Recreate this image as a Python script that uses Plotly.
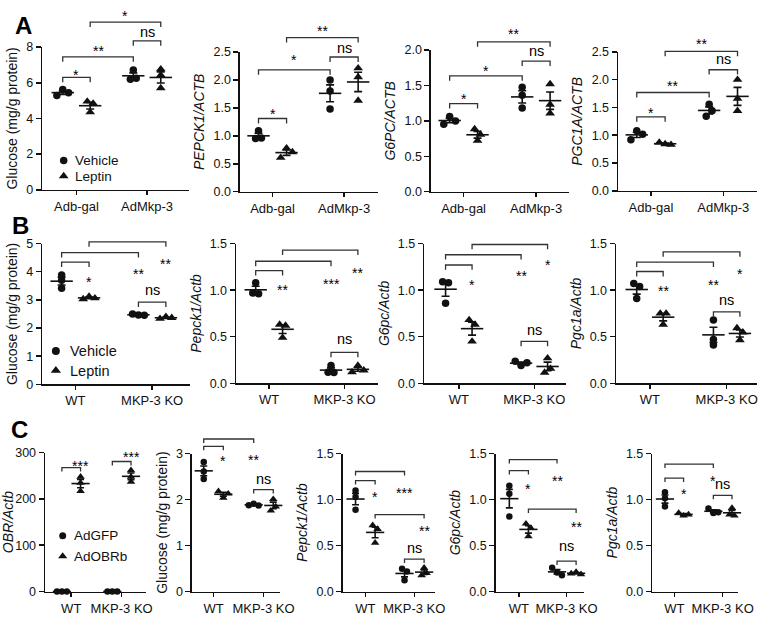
import numpy as np
import plotly.graph_objects as go

W, H = 777, 621
FONT = "Liberation Sans, Arial, Helvetica, sans-serif"
INK = "#111111"

# ---------------- data ----------------
A_categories = ["Adb-gal", "AdMkp-3"]
BC_categories = ["WT", "MKP-3 KO"]
AB_conditions = ["Vehicle", "Leptin"]
C_conditions = ["AdGFP", "AdOBRb"]

# each list: [cat1-cond1, cat1-cond2, cat2-cond1, cat2-cond2], replicates left->right
A1_glucose = [[5.28, 5.62, 5.44], [4.95, 4.35, 4.84], [6.20, 6.72, 6.25], [6.76, 5.70, 6.43]]
A2_pepck1 = [[0.95, 1.09, 0.96], [0.61, 0.78, 0.71], [1.80, 2.00, 1.48], [2.21, 2.05, 1.63]]
A3_g6pc = [[0.954, 1.06, 1.00], [0.72, 0.885, 0.806], [1.475, 1.36, 1.18], [1.52, 1.23, 1.106]]
A4_pgc1a = [[0.92, 1.08, 1.02], [0.87, 0.84, 0.83], [1.56, 1.34, 1.44], [1.66, 1.44, 2.00]]

B1_glucose = [[3.41, 3.88, 3.70], [3.03, 3.12, 3.06], [2.50, 2.46, 2.45], [2.33, 2.40, 2.36]]
B2_pepck1 = [[0.97, 1.08, 0.96], [0.63, 0.49, 0.62], [0.19, 0.12, 0.115], [0.12, 0.19, 0.14]]
B3_g6pc = [[1.09, 0.86, 1.08], [0.68, 0.45, 0.63], [0.237, 0.19, 0.22], [0.115, 0.27, 0.157]]
B4_pgc1a = [[1.07, 0.91, 1.04], [0.75, 0.63, 0.75], [0.68, 0.47, 0.41], [0.464, 0.593, 0.548]]

C1_obr = [[0, 0, 0], [217, 248, 235], [0, 0, 0], [237, 262, 248]]
C2_glucose = [[2.45, 2.82, 2.61], [2.18, 2.04, 2.13], [1.88, 1.91, 1.87], [1.76, 2.01, 1.85]]
C3_pepck1 = [[1.10, 0.89, 1.03], [0.72, 0.53, 0.68], [0.124, 0.247, 0.219], [0.176, 0.258, 0.20]]
C4_g6pc = [[1.152, 1.064, 0.816], [0.60, 0.738, 0.69], [0.259, 0.206, 0.177], [0.195, 0.213, 0.188]]
C5_pgc1a = [[0.926, 1.08, 1.014], [0.855, 0.826, 0.837], [0.904, 0.855, 0.862], [0.837, 0.908, 0.826]]

# y-axis titles
A1_ytitle = "Glucose (mg/g protein)"
A2_ytitle = "<i>PEPCK1/ACTB</i>"
A3_ytitle = "<i>G6PC/ACTB</i>"
A4_ytitle = "<i>PGC1A/ACTB</i>"
B1_ytitle = "Glucose (mg/g protein)"
B2_ytitle = "<i>Pepck1/Actb</i>"
B3_ytitle = "<i>G6pc/Actb</i>"
B4_ytitle = "<i>Pgc1a/Actb</i>"
C1_ytitle = "<i>OBR/Actb</i>"
C2_ytitle = "Glucose (mg/g protein)"
C3_ytitle = "<i>Pepck1/Actb</i>"
C4_ytitle = "<i>G6pc/Actb</i>"
C5_ytitle = "<i>Pgc1a/Actb</i>"

# significance: (group i, group j, bracket height, label, label height)
A1_sig = [(0, 1, 6.3, "*", 6.67), (0, 2, 7.45, "**", 8.0), (2, 3, 8.35, "ns", 8.8), (1, 3, 9.4, "*", 9.95)]
A2_sig = [(0, 1, 1.31, "*", 1.47), (0, 2, 2.18, "*", 2.42), (2, 3, 2.41, "ns", 2.56), (1, 3, 2.756, "**", 2.95)]
A3_sig = [(0, 1, 1.244, "*", 1.37), (0, 2, 1.636, "*", 1.76), (2, 3, 1.843, "ns", 1.97), (1, 3, 2.115, "**", 2.28)]
A4_sig = [(0, 1, 1.33, "*", 1.47), (0, 2, 1.77, "**", 1.96), (2, 3, 2.18, "ns", 2.35), (1, 3, 2.51, "**", 2.72)]
B1_sig = [(0, 1, 4.34, "*", 3.76), (0, 2, 4.68, "**", 4.05), (1, 3, 5.06, "**", 4.41), (2, 3, 2.92, "ns", 3.3)]
B2_sig = [(0, 1, 1.21, "**", 1.04), (0, 2, 1.31, "***", 1.11), (1, 3, 1.43, "**", 1.23), (2, 3, 0.333, "ns", 0.47)]
B3_sig = [(0, 1, 1.27, "*", 1.10), (0, 2, 1.38, "**", 1.19), (1, 3, 1.49, "*", 1.31), (2, 3, 0.45, "ns", 0.56)]
B4_sig = [(0, 1, 1.20, "**", 1.03), (0, 2, 1.30, "**", 1.10), (1, 3, 1.41, "*", 1.22), (2, 3, 0.767, "ns", 0.88)]
C1_sig = [(0, 1, 268, "***", 281), (2, 3, 281, "***", 300)]
C2_sig = [(0, 1, 3.16, "*", 2.93), (0, 2, 3.32, "**", 2.96), (2, 3, 2.22, "ns", 2.43)]
C3_sig = [(0, 1, 1.207, "*", 1.077), (0, 2, 1.306, "***", 1.12), (1, 3, 0.837, "**", 0.70), (2, 3, 0.353, "ns", 0.46)]
C4_sig = [(0, 1, 1.316, "*", 1.156), (0, 2, 1.436, "**", 1.25), (1, 3, 0.897, "**", 0.748), (2, 3, 0.33, "ns", 0.48)]
C5_sig = [(0, 1, 1.234, "*", 1.10), (0, 2, 1.387, "*", 1.245), (2, 3, 1.046, "ns", 1.16)]

# ---------------- layout (pixel boxes, ranges, styles) ----------------
PANELS = [
    # name, values, ytitle, sig, categories, yrange, dtick, tickformat, px box, py box, x range, group gap, row
    ("A1", A1_glucose, A1_ytitle, A1_sig, A_categories, (0, 8), 2, "d", (42, 192), (41, 187), (-0.75, 4.6), 2.57, "A"),
    ("A2", A2_pepck1, A2_ytitle, A2_sig, A_categories, (0, 2.5), 0.5, ".1f", (244, 385), (46, 189), (-0.66, 4.26), 2.55, "A"),
    ("A3", A3_g6pc, A3_ytitle, A3_sig, A_categories, (0, 2.0), 0.5, ".1f", (439, 580), (44, 189), (-0.67, 4.28), 2.6, "A"),
    ("A4", A4_pgc1a, A4_ytitle, A4_sig, A_categories, (0, 2.5), 0.5, ".1f", (630, 772), (46, 188), (-0.66, 4.24), 2.55, "A"),
    ("B1", B1_glucose, B1_ytitle, B1_sig, BC_categories, (0, 5), 1, "d", (42, 193), (242, 386), (-0.71, 4.68), 2.8, "B"),
    ("B2", B2_pepck1, B2_ytitle, B2_sig, BC_categories, (0, 1.5), 0.5, ".1f", (240, 385), (242, 385), (-0.73, 4.55), 2.8, "B"),
    ("B3", B3_g6pc, B3_ytitle, B3_sig, BC_categories, (0, 1.5), 0.5, ".1f", (432, 577), (242, 385), (-0.81, 4.55), 2.85, "B"),
    ("B4", B4_pgc1a, B4_ytitle, B4_sig, BC_categories, (0, 1.5), 0.5, ".1f", (628, 772), (242, 385), (-0.78, 4.55), 2.9, "B"),
    ("C1", C1_obr, C1_ytitle, C1_sig, BC_categories, (0, 300), 100, "d", (45, 148), (456, 598), (-0.9, 4.5), 2.7, "C"),
    ("C2", C2_glucose, C2_ytitle, C2_sig, BC_categories, (0, 3), 1, "d", (195, 285), (457, 598), (-0.6, 3.9), 2.55, "C"),
    ("C3", C3_pepck1, C3_ytitle, C3_sig, BC_categories, (0, 1.5), 0.5, ".1f", (349, 443), (457, 598), (-0.65, 4.05), 2.5, "C"),
    ("C4", C4_g6pc, C4_ytitle, C4_sig, BC_categories, (0, 1.5), 0.5, ".1f", (505, 595), (457, 598), (-0.72, 3.9), 2.5, "C"),
    ("C5", C5_pgc1a, C5_ytitle, C5_sig, BC_categories, (0, 1.5), 0.5, ".1f", (665, 753), (457, 598), (-0.68, 3.95), 2.6, "C"),
]

ROW_STYLE = {
    "A": dict(msize=7.5, tsize=8.5, spread=6.0, thr=6.0, meanw=16, cap=4, leg=5, label_mode="mid"),
    "B": dict(msize=7.5, tsize=8.5, spread=6.0, thr=5.0, meanw=16, cap=4, leg=5, label_mode="right"),
    "C": dict(msize=6.5, tsize=7.5, spread=5.0, thr=5.0, meanw=13, cap=3.5, leg=4, label_mode="right"),
}

fig = go.Figure()
layout = {}
shapes = []
annotations = []


def jitter(vals, ppu_y, thr, spread):
    n = len(vals)
    parent = list(range(n))

    def find(a):
        while parent[a] != a:
            a = parent[a]
        return a

    for i in range(n):
        for j in range(i + 1, n):
            if abs(vals[i] - vals[j]) * ppu_y < thr:
                parent[find(j)] = find(i)
    clusters = {}
    for i in range(n):
        clusters.setdefault(find(i), []).append(i)
    offs = [0.0] * n
    for members in clusters.values():
        m = len(members)
        for k, idx in enumerate(members):
            offs[idx] = (k - (m - 1) / 2) * spread
    return offs


for k, (name, vals, ytitle, sig, cats, yr, dtick, tfmt, pxb, pyb, xr, gap, row) in enumerate(PANELS):
    st = ROW_STYLE[row]
    ax = "" if k == 0 else str(k + 1)
    xa, ya = "x" + ax, "y" + ax
    dom_x = [pxb[0] / W, pxb[1] / W]
    dom_y = [1 - pyb[1] / H, 1 - pyb[0] / H]
    ppu_x = (pxb[1] - pxb[0]) / (xr[1] - xr[0])
    ppu_y = (pyb[1] - pyb[0]) / (yr[1] - yr[0])
    pos = [0, 1, gap, gap + 1]

    def paper_x(x):
        return (pxb[0] + (x - xr[0]) * ppu_x) / W

    def paper_y(y):
        return 1 - (pyb[1] - (y - yr[0]) * ppu_y) / H

    # replicate points
    for g, reps in enumerate(vals):
        offs = jitter(reps, ppu_y, st["thr"], st["spread"])
        is_tri = g % 2 == 1
        fig.add_trace(go.Scatter(
            x=[pos[g] + o / ppu_x for o in offs], y=reps, mode="markers",
            xaxis=xa, yaxis=ya, showlegend=False, cliponaxis=False,
            marker=dict(symbol="triangle-up" if is_tri else "circle",
                        size=st["tsize"] if is_tri else st["msize"], color=INK,
                        line=dict(width=0)),
        ))
    means = [float(np.mean(r)) for r in vals]
    sems = [float(np.std(r, ddof=1) / np.sqrt(len(r))) for r in vals]
    fig.add_trace(go.Scatter(
        x=pos, y=means, mode="markers", xaxis=xa, yaxis=ya, showlegend=False, cliponaxis=False,
        marker=dict(symbol="line-ew", size=st["meanw"], color=INK, line=dict(width=1.6, color=INK)),
        error_y=dict(type="data", array=sems, visible=True, color=INK, thickness=1.6, width=st["cap"]),
    ))

    layout["xaxis" + ax] = dict(
        domain=dom_x, anchor=ya, range=list(xr), showgrid=False, zeroline=False,
        showline=True, linecolor=INK, linewidth=1.5, ticks="outside", ticklen=4, tickwidth=1.5,
        tickcolor=INK, tickvals=[0.5, gap + 0.5], ticktext=cats,
        tickfont=dict(family=FONT, size=13, color=INK), fixedrange=True,
    )
    layout["yaxis" + ax] = dict(
        domain=dom_y, anchor=xa, range=list(yr), showgrid=False, zeroline=False,
        showline=True, linecolor=INK, linewidth=1.5, ticks="outside", ticklen=5, tickwidth=1.5,
        tickcolor=INK, dtick=dtick, tick0=0, tickformat=tfmt,
        tickfont=dict(family=FONT, size=12.5, color=INK),
        title=dict(text=ytitle, font=dict(family=FONT, size=14, color=INK), standoff=5),
        fixedrange=True,
    )

    # significance brackets and labels
    leg = st["leg"] / H
    for (i, j, yb, lab, ylab) in sig:
        x1, x2 = paper_x(pos[i]), paper_x(pos[j])
        y0 = paper_y(yb)
        shapes.append(dict(
            type="path", xref="paper", yref="paper",
            path=f"M {x1},{y0 - leg} L {x1},{y0} L {x2},{y0} L {x2},{y0 - leg}",
            line=dict(color="#333333", width=1.3),
        ))
        if lab == "ns" or st["label_mode"] == "mid":
            xt = (pos[i] + pos[j]) / 2
        else:
            xt = pos[j]
        star = lab != "ns"
        annotations.append(dict(
            x=paper_x(xt), y=paper_y(ylab), xref="paper", yref="paper", text=lab, showarrow=False,
            xanchor="center", yanchor="middle", yshift=-4 if star else 1,
            font=dict(family=FONT, size=14 if star else 14.5, color="#000000"),
        ))

# ---------- legends (overlay pixel axis) ----------
ov = str(len(PANELS) + 1)
layout["xaxis" + ov] = dict(domain=[0, 1], range=[0, W], visible=False, fixedrange=True, anchor="y" + ov)
layout["yaxis" + ov] = dict(domain=[0, 1], range=[H, 0], visible=False, fixedrange=True, anchor="x" + ov)

LEGENDS = [
    # conditions, marker x, row y's, text x, font size, marker sizes
    (AB_conditions, 64, (157, 173), 74, 13.5, (7.5, 8.5)),
    (AB_conditions, 56, (352, 372), 68, 14.5, (8, 9)),
    (C_conditions, 63, (541, 562), 73, 13.5, (7, 8)),
]
for conds, mx, ys, tx, fs, ms in LEGENDS:
    for c, (cond, yy) in enumerate(zip(conds, ys)):
        fig.add_trace(go.Scatter(
            x=[mx], y=[yy], mode="markers", xaxis="x" + ov, yaxis="y" + ov, showlegend=False,
            marker=dict(symbol="triangle-up" if c else "circle", size=ms[c], color=INK, line=dict(width=0)),
        ))
        annotations.append(dict(
            x=tx / W, y=1 - yy / H, xref="paper", yref="paper", text=cond, showarrow=False,
            xanchor="left", yanchor="middle", font=dict(family=FONT, size=fs, color=INK),
        ))

# panel letters
for letter, lx, ly in [("A", 23, 19), ("B", 20, 224), ("C", 19, 432)]:
    annotations.append(dict(
        x=lx / W, y=1 - ly / H, xref="paper", yref="paper", text=f"<b>{letter}</b>",
        showarrow=False, xanchor="center", yanchor="middle",
        font=dict(family=FONT, size=24, color="#000000"),
    ))

fig.update_layout(
    width=W, height=H, margin=dict(l=0, r=0, t=0, b=0),
    paper_bgcolor="white", plot_bgcolor="rgba(0,0,0,0)",
    showlegend=False, shapes=shapes, annotations=annotations,
    font=dict(family=FONT, color=INK),
    **layout,
)

fig.write_html(
    "out.html",
    config={"displayModeBar": False, "staticPlot": True},
    post_script="document.body.style.margin='0';document.body.style.overflow='hidden';",
)
